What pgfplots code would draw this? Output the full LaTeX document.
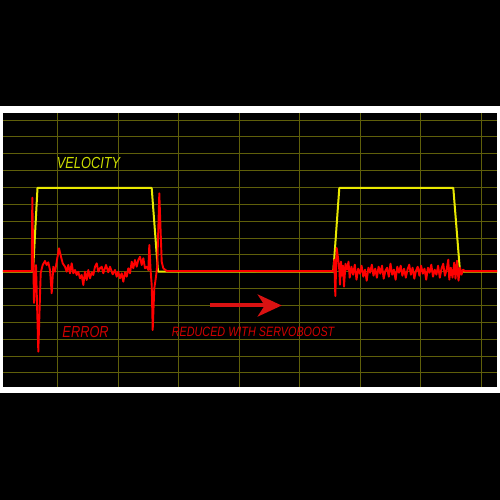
\documentclass[border=0pt]{standalone}
\usepackage{pgfplots}
\pgfplotsset{compat=1.18}
\usepackage{fontspec}
\usetikzlibrary{arrows.meta}
\setmainfont{Liberation Sans}
\newfontface\lbl[FakeStretch=0.8]{Liberation Sans Italic}

\definecolor{gridol}{RGB}{95,95,10}
\definecolor{veloc}{RGB}{232,232,0}
\definecolor{veltxt}{RGB}{205,222,0}
\definecolor{errred}{RGB}{255,0,0}
\definecolor{txtred}{RGB}{210,0,0}
\definecolor{arrred}{RGB}{218,18,18}

\begin{document}
\begin{tikzpicture}
\useasboundingbox (0,0) rectangle (500pt,500pt);
\fill[black] (0,0) rectangle (500pt,500pt);
\fill[white] (0,107pt) rectangle (500pt,394pt);
\begin{axis}[
    at={(3pt,113pt)}, anchor=south west,
    width=494pt, height=274pt, scale only axis,
    xmin=3, xmax=497, ymin=-115.3, ymax=158.7,
    axis background/.style={fill=black},
    axis line style={draw=none},
    xtick={57.7,118.2,178.7,239.2,299.7,360.2,420.7,481.2},
    ytick={-101.1,-84.25,...,152},
    xticklabels={}, yticklabels={},
    major tick length=0pt,
    grid=major,
    major grid style={gridol, line width=0.8pt},
    clip=true,
]
% velocity profile (yellow)
\addplot[veloc, line width=2pt, line join=round] coordinates {
 (3,0) (33,0) (37.5,83.7) (151.7,83.7) (158,0)
 (333.3,0) (339.3,83.7) (453.3,83.7) (460,0) (497,0)
};
% following error (red)
\addplot[errred, line width=1.9pt, line join=round] coordinates {
 (3,0.6) (31.7,0.6) (32.3,74) (34,-31.3) (36,6.7) (38.3,-80) (40.7,-1.3)
 (42.7,6.7) (45,10.7) (46.7,6.7) (48.3,9.4) (50,1.7) (51.7,-21.6) (53.3,5)
 (55,0) (56.7,10) (59,23.4) (61,15) (62.7,8.4) (65,5) (66.7,0) (68.3,6.7)
 (70,-1.6) (71.7,8.4) (73.3,-1.6) (75,1.7) (76.7,-3.3) (78.3,0) (80,-6.6)
 (81.7,-3.3) (83.3,-13.3) (85,0) (86.7,-8.3) (88.3,1.7) (90,-6.6) (91.7,-0.6)
 (93.3,-3.3) (95,5) (96.7,8.4) (98.3,0) (100,3.4) (101.7,5) (103.3,-1.6)
 (106,6.7) (108.3,-0.6) (110,5) (112.7,-2.6) (115,1.7) (116.7,-5) (118.3,0)
 (120,-6.6) (121.7,-1.6) (123.3,-10) (125,-0.6) (126.7,-5) (128.3,3.4)
 (130,-1.6) (131.7,10) (133.3,3.4) (135,11.7) (136.7,5) (138.3,11.7) (140,15)
 (141.7,6.7) (143.3,13.4) (145,3.4) (146.7,5) (148.3,1.7) (149.3,26.7)
 (150.7,0) (151.7,-13.3) (152.7,-58.3) (154.3,-16.6) (156,-5) (157.3,6.7)
 (159.3,78.4) (161.7,10) (163.3,3.4) (166.7,0.7) (333.3,0.6)
 (334.3,12) (335.3,-24.3) (336.7,23.7) (338,14) (339.5,0) (340,-13) (341,10)
 (342,-4) (343,6) (344,-15) (345.5,8) (347,2) (348.5,10)
 (349.7,-6) (351.4,5) (353.1,-3) (354.8,7) (356.5,-8) (358.2,3) (359.9,-2)
 (361.6,6) (363.3,-5) (365,2) (366.7,-9) (368.4,4) (370.1,-1) (371.8,7)
 (373.5,-4) (375.2,3) (376.9,-6) (378.6,5) (380.3,-2) (382,6) (383.7,-7)
 (385.4,1) (387.1,4) (388.8,-5) (390.5,8) (392.2,-3) (393.9,2) (395.6,-8)
 (397.3,5) (399,-1) (400.7,6) (402.4,-4) (404.1,3) (405.8,-6) (407.5,2)
 (409.2,7) (410.9,-3) (412.6,4) (414.3,-7) (416,1) (417.7,5) (419.4,-4)
 (421.1,6) (422.8,-2) (424.5,3) (426.2,-8) (427.9,4) (429.6,-1) (431.3,7)
 (433,-5) (434.7,2) (436.4,-3) (438.1,6) (439.8,-6) (441.5,3) (443.2,8)
 (444.9,-4) (446.6,2) (448.3,12) (449.3,-8) (450.8,4) (452.5,-6) (454.2,9)
 (455.5,-7) (457,11) (458.5,-9) (460,4) (461.5,-3) (463,2) (465,0.6) (497,0.6)
};
\node[veltxt, anchor=base west, inner sep=0pt, font=\fontsize{16}{16}\lbl]
  at (axis cs:56.7,103.4) {VELOCITY};
\node[txtred, anchor=base west, inner sep=0pt, font=\fontsize{16}{16}\lbl]
  at (axis cs:62.3,-65.6) {ERROR};
\node[txtred, anchor=base west, inner sep=0pt, font=\fontsize{13.5}{13.5}\lbl]
  at (axis cs:171.7,-65) {REDUCED WITH SERVOBOOST};
\draw[arrred, line width=4pt, -{Stealth[length=24pt,width=22pt,inset=7pt]}]
  (axis cs:210,-33.8) -- (axis cs:281.7,-33.8);
\end{axis}
\end{tikzpicture}
\end{document}
